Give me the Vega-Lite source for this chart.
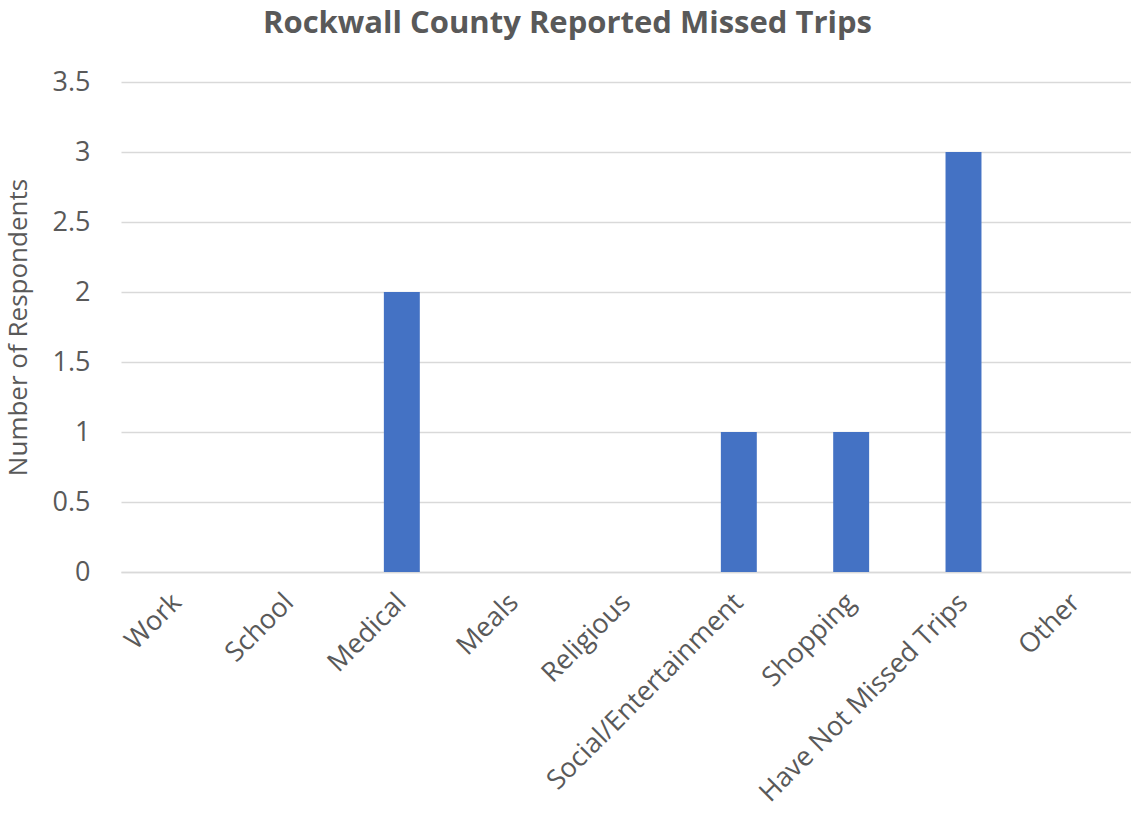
{
  "$schema": "https://vega.github.io/schema/vega-lite/v6.json",
  "autosize": "none",
  "width": 1011,
  "height": 490,
  "padding": {"left": 121, "top": 82, "right": 0, "bottom": 251},
  "background": "white",
  "title": {
    "text": "Rockwall County Reported Missed Trips",
    "fontSize": 31,
    "fontWeight": "bold",
    "color": "#595959",
    "font": "Open Sans",
    "anchor": "middle",
    "dx": -59,
    "offset": 28
  },
  "data": {
    "values": [
      {"category": "Work", "count": 0},
      {"category": "School", "count": 0},
      {"category": "Medical", "count": 2},
      {"category": "Meals", "count": 0},
      {"category": "Religious", "count": 0},
      {"category": "Social/Entertainment", "count": 1},
      {"category": "Shopping", "count": 1},
      {"category": "Have Not Missed Trips", "count": 3},
      {"category": "Other", "count": 0}
    ]
  },
  "mark": {"type": "bar", "color": "#4472C4"},
  "encoding": {
    "x": {
      "field": "category",
      "type": "nominal",
      "sort": null,
      "title": null,
      "scale": {"paddingInner": 0.68, "paddingOuter": 0.34},
      "axis": {
        "labelAngle": -45,
        "labelAlign": "right",
        "labelBaseline": "middle",
        "labelFontSize": 27,
        "labelColor": "#595959",
        "labelFont": "Open Sans",
        "labelPadding": 26,
        "ticks": false,
        "domainColor": "#D9D9D9",
        "domainWidth": 1.5,
        "labelLimit": 400
      }
    },
    "y": {
      "field": "count",
      "type": "quantitative",
      "title": "Number of Respondents",
      "scale": {"domain": [0, 3.5]},
      "axis": {
        "values": [0, 0.5, 1, 1.5, 2, 2.5, 3, 3.5],
        "format": "~g",
        "labelFontSize": 27,
        "labelColor": "#595959",
        "labelFont": "Open Sans",
        "labelPadding": 31,
        "titleFontSize": 26,
        "titleFont": "Open Sans",
        "titleFontWeight": "normal",
        "titleColor": "#595959",
        "titlePadding": 21,
        "ticks": false,
        "domain": false,
        "gridColor": "#D9D9D9",
        "gridWidth": 1.5
      }
    }
  },
  "config": {"view": {"stroke": null}}
}
